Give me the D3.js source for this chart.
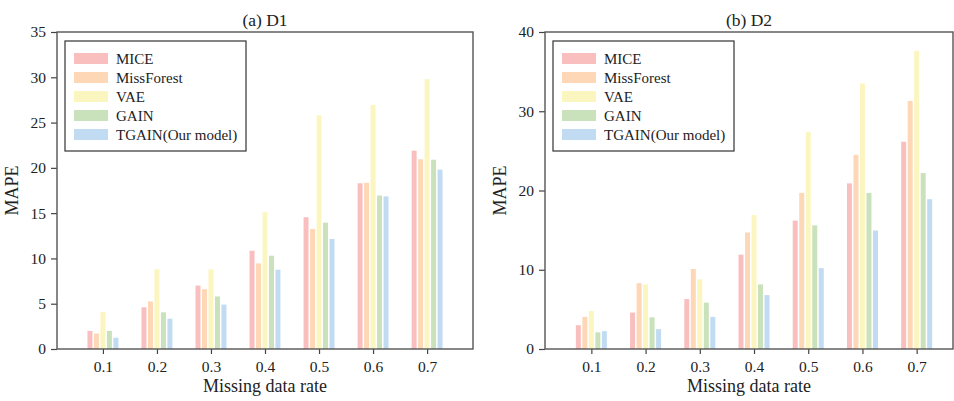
<!DOCTYPE html>
<html>
<head>
<meta charset="utf-8">
<script src="https://cdn.jsdelivr.net/npm/d3@7"></script>
<style>
  body { margin: 0; background: #fff; }
  svg text { font-family: "Liberation Serif", "DejaVu Serif", serif; fill: #222; }
</style>
</head>
<body>
<div id="chart"></div>
<script>
// missing data rates along x
const rates = ['0.1', '0.2', '0.3', '0.4', '0.5', '0.6', '0.7']
const methods = ['MICE', 'MissForest', 'VAE', 'GAIN', 'TGAIN(Our model)']
const colors = ['#f9bfbf', '#fdd7b6', '#fbf6bf', '#c9e2bb', '#c1dbf2']

// D1 MAPE per method
const d1Mice = [2.0, 4.6, 7.0, 10.85, 14.55, 18.3, 21.9]
const d1MissForest = [1.7, 5.25, 6.6, 9.45, 13.25, 18.35, 20.95]
const d1Vae = [4.1, 8.8, 8.8, 15.1, 25.8, 26.95, 29.8]
const d1Gain = [2.0, 4.05, 5.8, 10.3, 13.95, 16.95, 20.9]
const d1Tgain = [1.25, 3.35, 4.9, 8.75, 12.15, 16.85, 19.8]

// D2 MAPE per method
const d2Mice = [3.0, 4.6, 6.3, 11.9, 16.2, 20.9, 26.15]
const d2MissForest = [4.05, 8.3, 10.1, 14.7, 19.7, 24.5, 31.3]
const d2Vae = [4.8, 8.15, 8.8, 16.9, 27.4, 33.5, 37.6]
const d2Gain = [2.1, 4.0, 5.85, 8.15, 15.6, 19.7, 22.2]
const d2Tgain = [2.25, 2.5, 4.05, 6.8, 10.2, 14.95, 18.9]

const d1Ticks = [0, 5, 10, 15, 20, 25, 30, 35]
const d2Ticks = [0, 10, 20, 30, 40]

const W = 954, H = 401
const svg = d3.select('#chart').append('svg').attr('width', W).attr('height', H)

function drawPanel(opts) {
  const { left, right, top, bottom, title, series, yMax, yTicks, xDomain } = opts
  const g = svg.append('g')

  const x = d3.scaleLinear().domain(xDomain).range([left, right])
  const y = d3.scaleLinear().domain([0, yMax]).range([bottom, top])

  const barW = 0.092, pitch = 0.12

  // bars
  series.forEach((vals, k) => {
    g.append('g').selectAll('rect')
      .data(vals)
      .enter().append('rect')
      .attr('x', (d, i) => x(i + (k - 2) * pitch - barW / 2))
      .attr('width', x(barW) - x(0))
      .attr('y', d => y(d))
      .attr('height', d => bottom - y(d))
      .style('fill', colors[k])
  })

  // y axis
  const yAxis = d3.axisLeft(y).tickValues(yTicks).tickSize(6).tickPadding(5)
  const ya = g.append('g').attr('transform', 'translate(' + left + ',0)').call(yAxis)
  ya.select('.domain').remove()
  ya.selectAll('line').attr('stroke', '#444').attr('stroke-width', 1.2)
  ya.selectAll('text').style('font-size', '15.5px')

  // x axis
  const xAxis = d3.axisBottom(x).tickValues(d3.range(rates.length))
    .tickFormat(i => rates[i]).tickSize(5).tickPadding(7)
  const xa = g.append('g').attr('transform', 'translate(0,' + bottom + ')').call(xAxis)
  xa.select('.domain').remove()
  xa.selectAll('line').attr('stroke', '#444').attr('stroke-width', 1.2)
  xa.selectAll('text').style('font-size', '15.5px')

  // frame
  g.append('rect')
    .attr('x', left).attr('y', top)
    .attr('width', right - left).attr('height', bottom - top)
    .attr('fill', 'none').attr('stroke', '#555').attr('stroke-width', 1.4)

  // title and labels
  g.append('text').attr('x', (left + right) / 2).attr('y', 26)
    .attr('text-anchor', 'middle').style('font-size', '17.5px').text(title)
  g.append('text').attr('x', (left + right) / 2).attr('y', 392)
    .attr('text-anchor', 'middle').style('font-size', '18px').text('Missing data rate')
  g.append('text')
    .attr('transform', 'translate(' + (left - 39) + ',' + ((top + bottom) / 2) + ') rotate(-90)')
    .attr('text-anchor', 'middle').style('font-size', '18px').text('MAPE')

  // legend
  const lg = g.append('g').attr('transform', 'translate(' + (left + 8) + ',' + (top + 9) + ')')
  lg.append('rect').attr('width', 181).attr('height', 110)
    .attr('fill', '#fff').attr('stroke', '#333').attr('stroke-width', 1.2)
  methods.forEach((m, k) => {
    lg.append('rect').attr('x', 9).attr('y', 12 + k * 19)
      .attr('width', 34).attr('height', 11).style('fill', colors[k])
    lg.append('text').attr('x', 51).attr('y', 23 + k * 19)
      .style('font-size', '15px').text(m)
  })
}

drawPanel({
  left: 57, right: 473, top: 32, bottom: 349,
  title: '(a) D1',
  series: [d1Mice, d1MissForest, d1Vae, d1Gain, d1Tgain],
  yMax: 35, yTicks: d1Ticks,
  xDomain: [-0.85, 6.85]
})

drawPanel({
  left: 545, right: 953, top: 32, bottom: 349,
  title: '(b) D2',
  series: [d2Mice, d2MissForest, d2Vae, d2Gain, d2Tgain],
  yMax: 40, yTicks: d2Ticks,
  xDomain: [-0.855, 6.67]
})
</script>
</body>
</html>
